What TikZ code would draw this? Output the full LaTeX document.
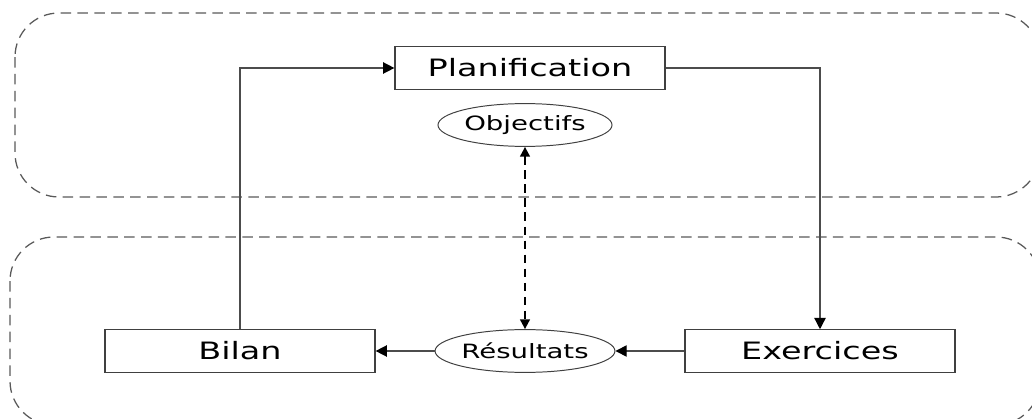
\documentclass[tikz,border=0pt]{standalone}
\usepackage{fontspec}
\setmainfont{DejaVu Sans}[FakeStretch=1.4]
\usetikzlibrary{arrows.meta, shapes.geometric}

\begin{document}
\begin{tikzpicture}[
  x=0.025cm, y=-0.025cm,
  box/.style={rectangle, draw=black!75, line width=0.8pt, minimum width=6.75cm,
    minimum height=1.06cm, inner sep=0pt, font=\fontsize{17}{19}\selectfont},
  goal/.style={ellipse, draw=black!75, line width=0.7pt, minimum width=4.35cm,
    minimum height=1.07cm, inner sep=0pt, font=\fontsize{14}{16}\selectfont},
  zone/.style={draw=black!65, line width=0.9pt, dash pattern=on 7.5pt off 4.5pt,
    rounded corners=1.1cm},
  arr/.style={-{Triangle[length=8pt, width=8pt, color=black]}, draw=black!70,
    line width=1pt},
  link/.style={{Triangle[length=7pt, width=7pt]}-{Triangle[length=7pt, width=7pt]},
    line width=1.4pt, dash pattern=on 6pt off 4pt}
]
\useasboundingbox (0,0) rectangle (1032,419);
\clip (0,0) rectangle (1032,419);

% the two phases
\draw[zone] (15,13) rectangle (1040,197);
\draw[zone] (10,237) rectangle (1040,425);

\node[box] (plan) at (530,68) {Planification};
\node[goal] (obj) at (525,125) {Objectifs};
\node[box] (bilan) at (240,351) {Bilan};
\node[goal] (res) at (525,351) {Résultats};
\node[box] (exo) at (820,351) {Exercices};

% cycle
\draw[arr] (bilan.north) |- (plan.west);
\draw[arr] (plan.east) -| (exo.north);
\draw[arr] (exo.west) -- (res.east);
\draw[arr] (res.west) -- (bilan.east);
\draw[link] (obj.south) -- (res.north);
\end{tikzpicture}
\end{document}
